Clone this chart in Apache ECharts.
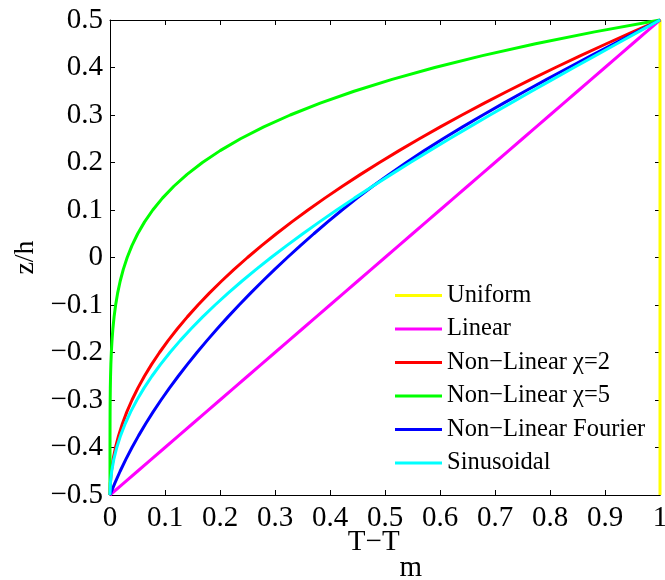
<!DOCTYPE html>
<html>
<head>
<meta charset="utf-8">
<script src="https://cdn.jsdelivr.net/npm/echarts@6/dist/echarts.min.js"></script>
<style>html,body{margin:0;padding:0;background:#fff}#c{width:665px;height:580px}</style>
</head>
<body>
<div id="c"></div>
<script>
// sample positions through the thickness (z/h)
const zValues = [-0.5,-0.475,-0.45,-0.425,-0.4,-0.375,-0.35,-0.325,-0.3,-0.275,-0.25,-0.225,-0.2,-0.175,-0.15,-0.125,-0.1,-0.075,-0.05,-0.025,0,0.025,0.05,0.075,0.1,0.125,0.15,0.175,0.2,0.225,0.25,0.275,0.3,0.325,0.35,0.375,0.4,0.425,0.45,0.475,0.5];
// T - Tm values
const uniformT = [1,1];
const uniformZ = [-0.5,0.5];
const linearT = [0,0.025,0.05,0.075,0.1,0.125,0.15,0.175,0.2,0.225,0.25,0.275,0.3,0.325,0.35,0.375,0.4,0.425,0.45,0.475,0.5,0.525,0.55,0.575,0.6,0.625,0.65,0.675,0.7,0.725,0.75,0.775,0.8,0.825,0.85,0.875,0.9,0.925,0.95,0.975,1];
const nl2T = [0,0.0006,0.0025,0.0056,0.01,0.0156,0.0225,0.0306,0.04,0.0506,0.0625,0.0756,0.09,0.1056,0.1225,0.1406,0.16,0.1806,0.2025,0.2256,0.25,0.2756,0.3025,0.3306,0.36,0.3906,0.4225,0.4556,0.49,0.5256,0.5625,0.6006,0.64,0.6806,0.7225,0.7656,0.81,0.8556,0.9025,0.9506,1];
const nl5T = [0,0,0,0,0.00001,0.00003,0.00008,0.00016,0.00032,0.00058,0.00098,0.00157,0.00243,0.00363,0.00525,0.00742,0.01024,0.01387,0.01845,0.02418,0.03125,0.03988,0.05033,0.06286,0.07776,0.09537,0.11603,0.14013,0.16807,0.2003,0.2373,0.27958,0.32768,0.38218,0.44371,0.51291,0.59049,0.67719,0.77378,0.8811,1];
const fourierT = [0,0.0088,0.0184,0.0288,0.04,0.052,0.0648,0.0784,0.0928,0.108,0.124,0.1407,0.1581,0.1762,0.195,0.2145,0.2347,0.2556,0.2772,0.2995,0.3225,0.3462,0.3706,0.3958,0.4219,0.4491,0.4776,0.5075,0.5388,0.5715,0.6055,0.6412,0.678,0.7158,0.7545,0.794,0.8342,0.875,0.9163,0.958,1];
const sinT = [0,0.0008,0.0031,0.0069,0.0123,0.0192,0.0276,0.0375,0.0489,0.0618,0.0761,0.0919,0.109,0.1275,0.1474,0.1685,0.191,0.2147,0.2396,0.2657,0.2929,0.3212,0.3506,0.3809,0.4122,0.4444,0.4775,0.5114,0.546,0.5813,0.6173,0.6539,0.691,0.7286,0.7666,0.8049,0.8436,0.8825,0.9216,0.9607,1];

const seriesNames = ['Uniform','Linear','Non\u2212Linear \u03c7=2','Non\u2212Linear \u03c7=5','Non\u2212Linear Fourier','Sinusoidal'];
const seriesColors = ['#ffff00','#ff00ff','#ff0000','#00ff00','#0000ff','#00ffff'];

const xTickLabels = ['0','0.1','0.2','0.3','0.4','0.5','0.6','0.7','0.8','0.9','1'];
const yTickLabels = ['\u22120.5','\u22120.4','\u22120.3','\u22120.2','\u22120.1','0','0.1','0.2','0.3','0.4','0.5'];

const FONT = 'Liberation Serif';
const pair = (xs, zs) => xs.map((x, i) => [x, zs[i]]);
const seriesX = [uniformT, linearT, nl2T, nl5T, fourierT, sinT];

const chart = echarts.init(document.getElementById('c'), null, {renderer: 'canvas'});

const axisCommon = {
  type: 'value',
  interval: 0.1,
  splitLine: {show: false},
  axisLine: {show: true, onZero: false, lineStyle: {color: '#000', width: 1}},
  axisTick: {show: true, inside: true, length: 5, lineStyle: {color: '#000', width: 1}}
};

chart.setOption({
  animation: false,
  backgroundColor: '#fff',
  grid: {left: 110, top: 20, width: 550, height: 475, containLabel: false, outerBoundsMode: 'none'},
  legend: {
    orient: 'vertical', left: 395, top: 283, padding: 0,
    icon: 'rect', itemWidth: 47, itemHeight: 3, itemGap: 8.5,
    textStyle: {fontFamily: FONT, fontSize: 24.5, color: '#000'},
    data: seriesNames
  },
  xAxis: [
    Object.assign({}, axisCommon, {
      min: 0, max: 1, position: 'bottom',
      axisLabel: {margin: 9, fontFamily: FONT, fontSize: 29, color: '#000',
        formatter: v => xTickLabels[Math.round(v / 0.1)]},
      name: '{t|T\u2212T}{s|m}', nameLocation: 'middle', nameGap: 33, nameMoveOverlap: false,
      nameTextStyle: {fontFamily: FONT, fontSize: 29, color: '#000',
        rich: {t: {fontFamily: FONT, fontSize: 29, color: '#000', padding: [0,0,26,0]},
               s: {fontFamily: FONT, fontSize: 29, color: '#000', padding: [26,0,0,0]}}}
    }),
    Object.assign({}, axisCommon, {
      min: 0, max: 1, position: 'top', axisLabel: {show: false}
    })
  ],
  yAxis: [
    Object.assign({}, axisCommon, {
      min: -0.5, max: 0.5, position: 'left',
      axisLabel: {margin: 7, fontFamily: FONT, fontSize: 29, color: '#000',
        formatter: v => yTickLabels[Math.round((v + 0.5) / 0.1)]},
      name: 'z/h', nameLocation: 'middle', nameGap: 70, nameMoveOverlap: false,
      nameTextStyle: {fontFamily: FONT, fontSize: 28, color: '#000'}
    }),
    Object.assign({}, axisCommon, {
      min: -0.5, max: 0.5, position: 'right', axisLabel: {show: false}
    })
  ],
  series: seriesNames.map((name, i) => ({
    name: name,
    type: 'line',
    xAxisIndex: 0, yAxisIndex: 0,
    symbol: 'none', showSymbol: false, clip: false,
    color: seriesColors[i],
    lineStyle: {color: seriesColors[i], width: 3},
    data: i === 0 ? pair(uniformT, uniformZ) : pair(seriesX[i], zValues)
  }))
});
</script>
</body>
</html>
